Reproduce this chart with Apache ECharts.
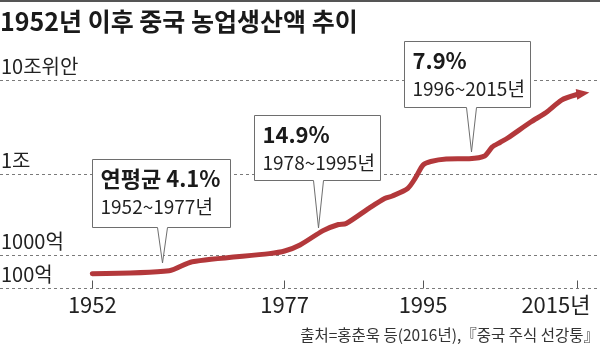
<!DOCTYPE html>
<html>
<head>
<meta charset="utf-8">
<script src="https://cdn.jsdelivr.net/npm/echarts@6/dist/echarts.min.js"></script>
<style>
  html, body { margin: 0; padding: 0; background: #fff; }
  #chart { width: 600px; height: 346px; }
</style>
</head>
<body>
<div id="chart"></div>
<script>
// 중국 농업생산액 (단위: 억 위안)
const years = [1952, 1962, 1965, 1975, 1977, 1979, 1982, 1984, 1985, 1988, 1990, 1991, 1993, 1994,
               1995, 1996, 1998, 2001, 2003, 2004, 2005, 2006, 2009, 2011, 2013, 2015];
const output = [277, 340, 631, 1040, 1120, 1330, 2000, 2380, 2450, 3800, 4990, 5350, 6620, 8930,
                12480, 13600, 14450, 14580, 15600, 19460, 21740, 24270, 35970, 45490, 61800, 70800];

// 기준선 (억 위안) 과 이름
const levelValues = [100, 1000, 10000, 100000];
const levelNames = ['100억', '1000억', '1조', '10조위안'];

// x축 눈금
const tickYears = [1952, 1977, 1995, 2015];

// 기간별 연평균 증가율
const notes = [
  { head: '연평균 4.1%', period: '1952~1977년' },
  { head: '14.9%', period: '1978~1995년' },
  { head: '7.9%', period: '1996~2015년' }
];

const sourceText = '출처=홍춘욱 등(2016년),『중국 주식 선강퉁』';
const titleText = '1952년 이후 중국 농업생산액 추이';

// 구간별 로그 눈금: 각 기준선 사이를 서로 다른 높이로 배치
const levelHeights = [0, 33.5, 114.5, 208];
function toScale(v) {
  const lg = Math.log10(v);
  for (let i = 0; i < levelValues.length - 1; i++) {
    const a = Math.log10(levelValues[i]), b = Math.log10(levelValues[i + 1]);
    if (lg <= b || i === levelValues.length - 2) {
      return levelHeights[i] + (lg - a) / (b - a) * (levelHeights[i + 1] - levelHeights[i]);
    }
  }
}

const FONT = "'Noto Sans CJK KR', 'Noto Sans', sans-serif";
const TEXT = '#222';
const LINE = '#b3383b';

const points = years.map((y, i) => {
  const item = { value: [y, toScale(output[i])] };
  if (i === years.length - 1) {
    item.symbol = 'triangle';
    item.symbolSize = [11, 13];
    item.symbolRotate = -82;
    item.symbolOffset = [6, -1];
    item.itemStyle = { color: LINE };
  }
  return item;
});

function callout(box, tip, note) {
  const pts = [
    [box.l, box.t], [box.r, box.t], [box.r, box.b],
    [tip[0] + 5, box.b], [tip[0], tip[1]], [tip[0] - 5, box.b], [box.l, box.b]
  ];
  return [
    { type: 'polygon', z: 100, shape: { points: pts },
      style: { fill: '#fff', stroke: '#6e6e6e', lineWidth: 1 } },
    { type: 'text', z: 101, x: box.l + 8, y: box.t + 19,
      style: { text: note.head, fontSize: 22, fontWeight: 'bold', fontFamily: FONT,
               fill: '#1a1a1a', verticalAlign: 'middle' } },
    { type: 'text', z: 101, x: box.l + 8, y: box.t + 47.5,
      style: { text: note.period, fontSize: 19, fontFamily: FONT,
               fill: TEXT, verticalAlign: 'middle' } }
  ];
}

const chart = echarts.init(document.getElementById('chart'), null, { renderer: 'canvas' });

chart.setOption({
  animation: false,
  backgroundColor: '#fff',
  grid: { left: 0, right: 0, top: 80.5, bottom: 57.5 },
  xAxis: {
    type: 'value', min: 1940, max: 2018,
    splitLine: { show: false },
    axisLine: { show: false },
    axisTick: { show: true, inside: true, length: 8, customValues: tickYears,
                lineStyle: { color: '#555', width: 1 } },
    axisLabel: {
      customValues: tickYears, margin: 5, fontSize: 22, fontFamily: FONT, color: TEXT,
      formatter: v => v === 2015 ? '{a|2015}{b|년}' : String(v),
      rich: {
        a: { fontSize: 22, fontFamily: FONT, color: TEXT },
        b: { fontSize: 22, fontFamily: FONT, color: TEXT, padding: [0, 42, 0, 0] }
      }
    }
  },
  yAxis: { type: 'value', min: 0, max: 208, show: false, splitLine: { show: false } },
  series: [{
    type: 'line',
    data: points,
    smooth: 0.25,
    symbol: 'none',
    showSymbol: true,
    lineStyle: { color: LINE, width: 5, cap: 'round', join: 'round' },
    itemStyle: { color: LINE },
    markLine: {
      silent: true,
      symbol: ['none', 'none'],
      lineStyle: { type: [3, 3], color: '#7a7a7a', width: 1 },
      label: {
        position: 'insideStartTop', distance: [1, 4],
        fontSize: 20, fontFamily: FONT, color: TEXT,
        formatter: p => p.name
      },
      data: levelValues.map((v, i) => ({ name: levelNames[i], yAxis: toScale(v) }))
    },
    z: 5
  }],
  graphic: [
    { type: 'rect', z: 100, shape: { x: 0, y: 0, width: 600, height: 2 }, style: { fill: '#555' } },
    { type: 'text', z: 100, x: 0, y: 21,
      style: { text: titleText, fontSize: 25, fontWeight: 'bold', fontFamily: FONT,
               fill: '#1a1a1a', verticalAlign: 'middle' } },
    { type: 'text', z: 100, x: 599, y: 335,
      style: { text: sourceText, fontSize: 15.5, fontFamily: FONT,
               fill: '#333', align: 'right', verticalAlign: 'middle' } },
    ...callout({ l: 92.5, r: 230.5, t: 159.5, b: 227.5 }, [162.5, 263], notes[0]),
    ...callout({ l: 254.5, r: 380.5, t: 115.5, b: 180.5 }, [318.5, 228], notes[1]),
    ...callout({ l: 404.5, r: 530.5, t: 41.5, b: 107.5 }, [471.5, 152], notes[2])
  ]
});
</script>
</body>
</html>
